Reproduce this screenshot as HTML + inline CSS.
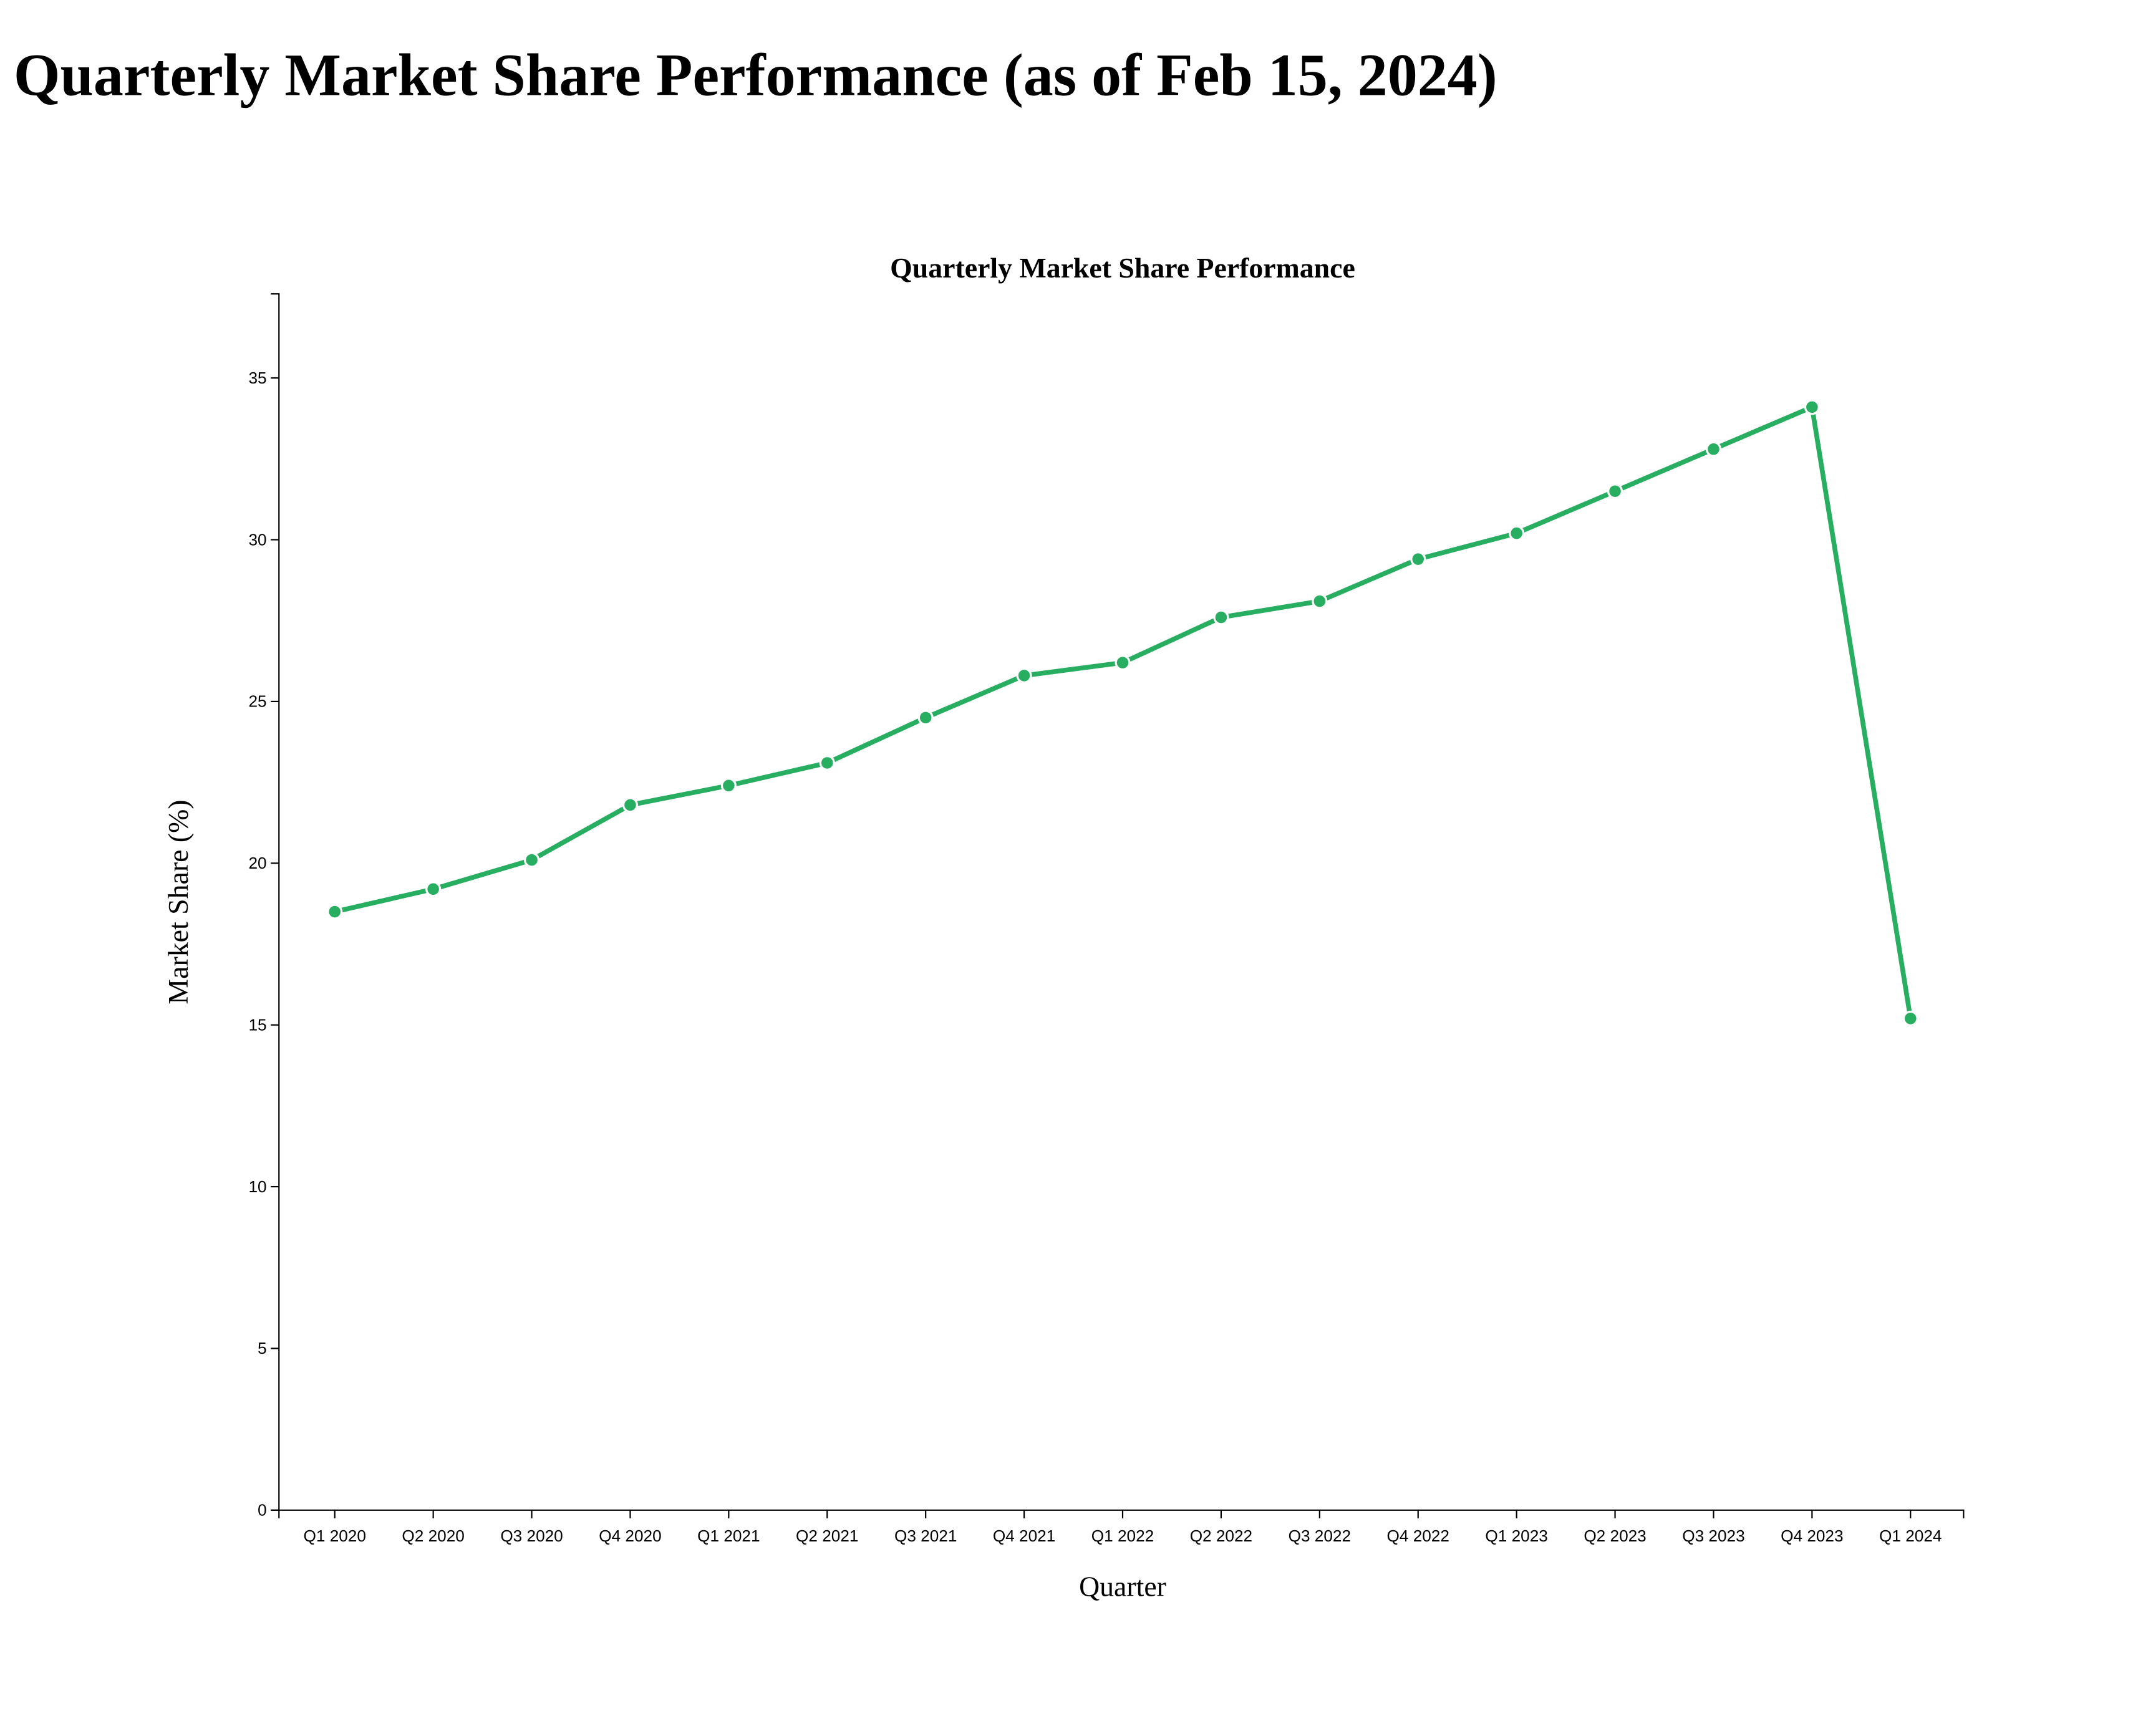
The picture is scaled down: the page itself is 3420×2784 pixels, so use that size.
<!DOCTYPE html>
<html><head><meta charset="utf-8"><style>
html,body{margin:0;padding:0;background:#fff;width:3420px;height:2784px;overflow:hidden}
svg{display:block}
</style></head><body>
<svg id="chart" width="3420" height="2784" viewBox="0 0 1567 1276" preserveAspectRatio="xMinYMin meet" xmlns="http://www.w3.org/2000/svg">
<text x="10" y="70" font-family="Liberation Serif, serif" font-weight="bold" font-size="44">Quarterly Market Share Performance (as of Feb 15, 2024)</text>
<text x="825" y="204" text-anchor="middle" font-family="Liberation Serif, serif" font-weight="bold" font-size="21">Quarterly Market Share Performance</text>
<g id="axes"></g>
<g id="plot"></g>
<text x="825" y="1173" text-anchor="middle" font-family="Liberation Serif, serif" font-size="21">Quarter</text>
<text transform="translate(138,663) rotate(-90)" text-anchor="middle" font-family="Liberation Serif, serif" font-size="21">Market Share (%)</text>
</svg>
<script>
const categories=["Q1 2020","Q2 2020","Q3 2020","Q4 2020","Q1 2021","Q2 2021","Q3 2021","Q4 2021","Q1 2022","Q2 2022","Q3 2022","Q4 2022","Q1 2023","Q2 2023","Q3 2023","Q4 2023","Q1 2024"];
const shareValues=[18.5,19.2,20.1,21.8,22.4,23.1,24.5,25.8,26.2,27.6,28.1,29.4,30.2,31.5,32.8,34.1,15.2];
const yTicks=[0,5,10,15,20,25,30,35];
const yMax=37.6;
const NS="http://www.w3.org/2000/svg";
const leftX=205,rightX=1443,topY=216,bottomY=1110;
const firstX=246,lastX=1404;
function xs(i){return firstX+i*(lastX-firstX)/(categories.length-1);}
function ys(v){return bottomY-(v/yMax)*(bottomY-topY);}
function mk(tag,attrs,parent){const e=document.createElementNS(NS,tag);for(const k in attrs)e.setAttribute(k,attrs[k]);parent.appendChild(e);return e;}
const axesG=document.getElementById('axes'),plotG=document.getElementById('plot');
const yAxis=mk('path',{d:`M${leftX-6},${topY}H${leftX}V${bottomY}H${leftX-6}`,fill:'none',stroke:'#000'},axesG);


const xAxis=mk('path',{d:`M${leftX},${bottomY+6}V${bottomY}H${rightX}V${bottomY+6}`,fill:'none',stroke:'#000'},axesG);


yTicks.forEach(t=>{
  const l=mk('line',{x1:leftX-6,x2:leftX,y1:ys(t),y2:ys(t),stroke:'#000'},axesG);
  
  
  const tx=mk('text',{x:leftX-9,y:ys(t)+4,'text-anchor':'end','font-family':'Liberation Sans, sans-serif','font-size':'12'},axesG);
  tx.textContent=t;
  
  
});
categories.forEach((c,i)=>{
  const l=mk('line',{x1:xs(i),x2:xs(i),y1:bottomY,y2:bottomY+6,stroke:'#000'},axesG);
  
  
  const tx=mk('text',{x:xs(i),y:bottomY+23,'text-anchor':'middle','font-family':'Liberation Sans, sans-serif','font-size':'12'},axesG);
  tx.textContent=c;
  
  
});
const line=mk('path',{d:shareValues.map((v,i)=>(i?'L':'M')+xs(i)+','+ys(v)).join(''),fill:'none',stroke:'#27ae60','stroke-width':'3.5','stroke-linejoin':'round'},plotG);


shareValues.forEach((v,i)=>{
  const p=mk('circle',{cx:xs(i),cy:ys(v),r:5,fill:'#27ae60',stroke:'#fff','stroke-width':'1.5'},plotG);
  
  
});
</script>
</body></html>
